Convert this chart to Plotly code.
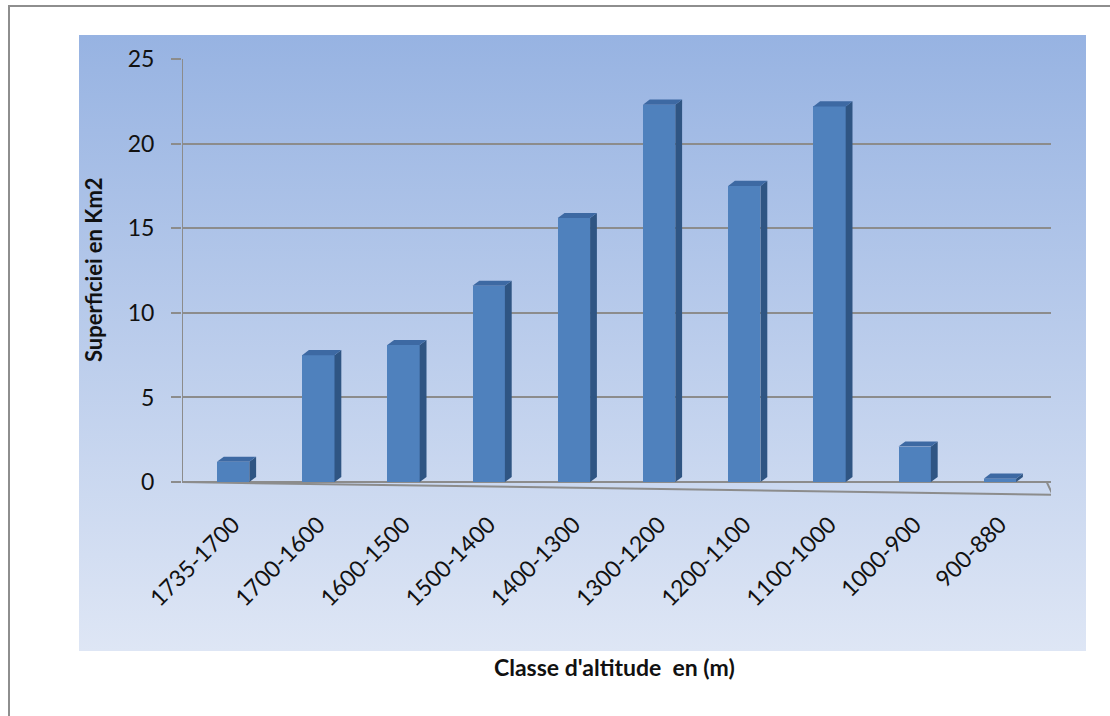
import base64
import plotly.graph_objects as go

# Area per altitude class (km2)
classes = ["1735-1700", "1700-1600", "1600-1500", "1500-1400", "1400-1300",
           "1300-1200", "1200-1100", "1100-1000", "1000-900", "900-880"]
surface_km2 = [1.2, 7.5, 8.1, 11.6, 15.6, 22.3, 17.5, 22.2, 2.1, 0.2]
y_ticks = [0, 5, 10, 15, 20, 25]

W, H = 1110, 716
FONT = "Lato"
FRONT = "#4f81bd"
SIDE = "#2f5583"
TOP = "#3d69a3"
GRID = "#8c8c8c"

# pixel frame of the plotting area
x_px0, x_px1 = 182, 1051
y_px0, y_px1 = 499, 59          # bottom (y=-1) and top (y=25)

bar_w = 0.38     # front face width in category units
depth_x = 0.08   # side-face depth
depth_y = 0.3    # top-face rise

fig = go.Figure()

xs = list(range(len(classes)))

# front faces
fig.add_trace(go.Bar(
    x=xs, y=surface_km2, width=bar_w, marker=dict(color=FRONT, line=dict(width=0)),
    hoverinfo="x+y", showlegend=False,
))

# side and top faces give the columns their 3-D look
for x, v in zip(xs, surface_km2):
    r = x + bar_w / 2
    l = x - bar_w / 2
    fig.add_trace(go.Scatter(
        x=[r, r + depth_x, r + depth_x, r, r],
        y=[0, depth_y, v + depth_y, v, 0],
        fill="toself", fillcolor=SIDE, line=dict(width=0), mode="lines",
        hoverinfo="skip", showlegend=False,
    ))
    fig.add_trace(go.Scatter(
        x=[l, r, r + depth_x, l + depth_x, l],
        y=[v, v, v + depth_y, v + depth_y, v],
        fill="toself", fillcolor=TOP, line=dict(width=0), mode="lines",
        hoverinfo="skip", showlegend=False,
    ))

# vertical blue gradient behind the chart
svg = ("<svg xmlns='http://www.w3.org/2000/svg' width='100' height='100' "
       "preserveAspectRatio='none'><defs><linearGradient id='g' x1='0' y1='0' x2='0' y2='1'>"
       "<stop offset='0' stop-color='#97b3e2'/><stop offset='1' stop-color='#dee6f5'/>"
       "</linearGradient></defs><rect width='100' height='100' fill='url(#g)'/></svg>")
bg_src = "data:image/svg+xml;base64," + base64.b64encode(svg.encode()).decode()

shapes = [
    # outer frame
    dict(type="rect", xref="paper", yref="paper", x0=9 / W, x1=1.02, y0=-0.02, y1=1 - 6 / H,
         line=dict(color="#8e8e8e", width=2), fillcolor="rgba(0,0,0,0)", layer="below"),
    # value axis line
    dict(type="line", xref="x", yref="y", x0=-0.6, x1=-0.6, y0=0, y1=25,
         line=dict(color=GRID, width=2), layer="below"),
    # floor front edge
    dict(type="path", xref="x", yref="y",
         path="M -0.6,0 L 9.62,-0.75 L 9.55,0",
         line=dict(color=GRID, width=2), layer="below"),
]

fig.update_layout(
    width=W, height=H,
    margin=dict(l=0, r=0, t=0, b=0, autoexpand=False),
    paper_bgcolor="white",
    plot_bgcolor="rgba(0,0,0,0)",
    font=dict(family=FONT, color="#111111"),
    bargap=0,
    images=[dict(source=bg_src, xref="paper", yref="paper",
                 x=79 / W, y=1 - 35 / H, sizex=(1086 - 79) / W, sizey=(651 - 35) / H,
                 sizing="stretch", xanchor="left", yanchor="top", layer="below")],
    shapes=shapes,
    xaxis=dict(
        domain=[x_px0 / W, x_px1 / W], range=[-0.6, 9.6], automargin=False,
        tickmode="array", tickvals=xs, ticktext=classes, tickangle=-45,
        tickfont=dict(size=23, family=FONT, color="#111111"),
        ticks="outside", ticklen=2, tickcolor="rgba(0,0,0,0)",
        showgrid=False, zeroline=False, showline=False, fixedrange=True,
    ),
    yaxis=dict(
        domain=[1 - y_px0 / H, 1 - y_px1 / H], range=[-1, 25], automargin=False,
        tickmode="array", tickvals=y_ticks,
        tickfont=dict(size=23, family=FONT, color="#111111"),
        ticks="outside", ticklen=10, tickwidth=2, tickcolor=GRID,
        ticklabelstandoff=12,
        showgrid=True, gridcolor=GRID, gridwidth=2,
        zeroline=False, showline=False, fixedrange=True,
    ),
    annotations=[
        dict(text="<b>Superficiei en Km2</b>", xref="paper", yref="paper",
             x=93 / W, y=1 - 270 / H, xanchor="center", yanchor="middle",
             textangle=-90, showarrow=False,
             font=dict(size=22, family=FONT, color="#111111")),
        dict(text="<b>Classe d'altitude  en (m)</b>", xref="paper", yref="paper",
             x=614 / W, y=1 - 667 / H, xanchor="center", yanchor="middle",
             showarrow=False,
             font=dict(size=23, family=FONT, color="#111111")),
    ],
)

fig.write_html("out.html")
